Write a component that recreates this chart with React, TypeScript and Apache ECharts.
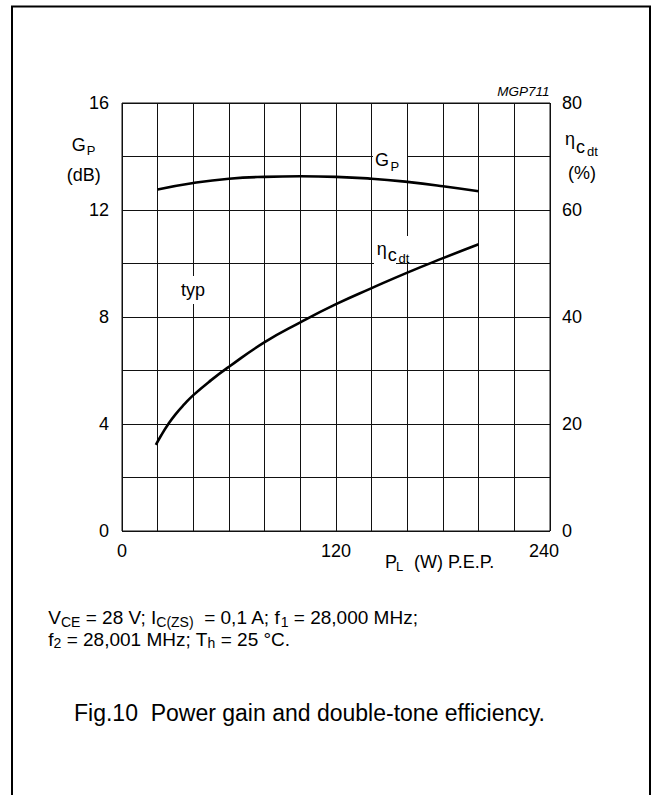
import React, { useEffect, useRef } from 'react';
import * as echarts from 'echarts';

// ---- data ----
const powerTickLabels = [0, 120, 240];
const gainTickLabels = [0, 4, 8, 12, 16];
const effTickLabels = [0, 20, 40, 60, 80];

const gainPower = [20, 40, 60, 80, 100, 120, 140, 160, 180, 200];
const gainDb = [12.77, 13.01, 13.17, 13.24, 13.26, 13.24, 13.17, 13.05, 12.89, 12.7];

const effPower = [19, 22, 26, 30, 35, 40, 50, 60, 80, 100, 120, 140, 160, 180, 200];
const effPct = [16.1, 17.9, 20.0, 21.8, 23.7, 25.4, 28.2, 30.7, 35.3, 39.0, 42.4, 45.4, 48.3, 51.0, 53.6];

const FONT = '"Liberation Sans", Arial, Helvetica, sans-serif';

function txt(text: string, x: number, y: number, size: number, extra: any = {}) {
  return {
    type: 'text',
    z: 5,
    style: {
      text,
      x,
      y,
      fontSize: size,
      fontFamily: FONT,
      fill: '#000',
      align: 'left',
      verticalAlign: 'middle',
      ...extra,
    },
  };
}

function whiteRect(x: number, y: number, w: number, h: number) {
  return {
    type: 'rect',
    z: 1,
    shape: { x, y, width: w, height: h },
    style: { fill: '#fff', stroke: 'none' },
  };
}

const richLine = {
  n: { fontSize: 19, lineHeight: 22, fontFamily: FONT, fill: '#000' },
  s: { fontSize: 14, lineHeight: 13, verticalAlign: 'bottom', fontFamily: FONT, fill: '#000' },
};

export default function App() {
  const ref = useRef<HTMLDivElement>(null);

  useEffect(() => {
    if (!ref.current) return;
    const chart = echarts.init(ref.current, null, { renderer: 'svg' });
    const gridColor = '#111';
    chart.setOption({
      animation: false,
      backgroundColor: '#fff',
      textStyle: { fontFamily: FONT },
      grid: {
        left: 122,
        top: 103,
        width: 428,
        height: 428,
        show: true,
        borderColor: gridColor,
        borderWidth: 1,
        backgroundColor: 'transparent',
      },
      xAxis: {
        type: 'value',
        min: 0,
        max: 240,
        interval: 20,
        axisLine: { show: false },
        axisTick: { show: false },
        splitLine: { show: true, lineStyle: { color: gridColor, width: 1 } },
        axisLabel: {
          show: true,
          margin: 11,
          fontSize: 18,
          fontFamily: FONT,
          color: '#000',
          showMinLabel: true,
          showMaxLabel: true,
          hideOverlap: false,
          formatter: (v: number) => {
            if (!powerTickLabels.includes(v)) return '';
            if (v === 240) return '{r|' + v + '}';
            return String(v);
          },
          rich: {
            r: { fontSize: 18, fontFamily: FONT, color: '#000', padding: [0, 12, 0, 0] },
          },
        },
      },
      yAxis: [
        {
          type: 'value',
          position: 'left',
          min: 0,
          max: 16,
          interval: 2,
          axisLine: { show: false },
          axisTick: { show: false },
          splitLine: { show: true, lineStyle: { color: gridColor, width: 1 } },
          axisLabel: {
            margin: 13,
            fontSize: 18,
            fontFamily: FONT,
            color: '#000',
            showMinLabel: true,
            showMaxLabel: true,
            formatter: (v: number) => (gainTickLabels.includes(v) ? String(v) : ''),
          },
        },
        {
          type: 'value',
          position: 'right',
          min: 0,
          max: 80,
          interval: 10,
          axisLine: { show: false },
          axisTick: { show: false },
          splitLine: { show: false },
          axisLabel: {
            margin: 12,
            fontSize: 18,
            fontFamily: FONT,
            color: '#000',
            showMinLabel: true,
            showMaxLabel: true,
            formatter: (v: number) => (effTickLabels.includes(v) ? String(v) : ''),
          },
        },
      ],
      series: [
        {
          name: 'GP',
          type: 'line',
          yAxisIndex: 0,
          data: gainPower.map((p, i) => [p, gainDb[i]]),
          showSymbol: false,
          smooth: 0.5,
          lineStyle: { color: '#000', width: 2.6 },
          z: 3,
        },
        {
          name: 'eta',
          type: 'line',
          yAxisIndex: 1,
          data: effPower.map((p, i) => [p, effPct[i]]),
          showSymbol: false,
          smooth: 0.5,
          lineStyle: { color: '#000', width: 2.6 },
          z: 3,
        },
      ],
      graphic: [
        // outer frame
        {
          type: 'rect',
          z: 0,
          shape: { x: 12, y: 6.5, width: 638, height: 820 },
          style: { fill: 'none', stroke: '#000', lineWidth: 2 },
        },
        // white masks behind in-plot labels
        whiteRect(373, 142, 34, 26),
        whiteRect(179, 276, 28, 28),
        whiteRect(374, 236, 36, 25),
        whiteRect(374, 258, 22, 8),
        // code
        txt('MGP711', 549.5, 91, 13.5, { align: 'right', fontStyle: 'italic' }),
        // left axis name
        txt('G', 71.7, 145, 18),
        txt('P', 86.7, 150.5, 13),
        txt('(dB)', 66.7, 175, 18),
        // right axis name
        txt('η', 565, 139, 18),
        txt('c', 576, 146.5, 18),
        txt('dt', 587, 151, 13),
        txt('(%)', 568, 173, 18),
        // curve labels
        txt('G', 375, 159.5, 18),
        txt('P', 390.5, 166.5, 13),
        txt('η', 376.7, 248.5, 18),
        txt('c', 387.7, 255, 18),
        txt('dt', 398.5, 258, 13),
        txt('typ', 181, 289.5, 18),
        // x axis name
        txt('P', 385, 561.7, 18),
        txt('L', 396, 566.7, 13),
        txt('(W) P.E.P.', 414, 561.7, 18),
        // conditions
        {
          type: 'text',
          z: 5,
          style: {
            x: 48.3,
            y: 606.5,
            verticalAlign: 'top',
            align: 'left',
            fontFamily: FONT,
            text: '{n|V}{s|CE}{n| = 28 V; I}{s|C(ZS)}{n|  = 0,1 A; f}{s|1}{n| = 28,000 MHz;}',
            rich: richLine,
          },
        },
        {
          type: 'text',
          z: 5,
          style: {
            x: 48.3,
            y: 628,
            verticalAlign: 'top',
            align: 'left',
            fontFamily: FONT,
            text: '{n|f}{s|2}{n| = 28,001 MHz; T}{s|h}{n| = 25 °C.}',
            rich: richLine,
          },
        },
        // caption
        txt('Fig.10  Power gain and double-tone efficiency.', 74, 713, 23),
      ],
    });
    return () => chart.dispose();
  }, []);

  return (
    <div
      ref={ref}
      style={{ position: 'absolute', left: 0, top: 0, width: 653, height: 795, background: '#fff' }}
    />
  );
}
